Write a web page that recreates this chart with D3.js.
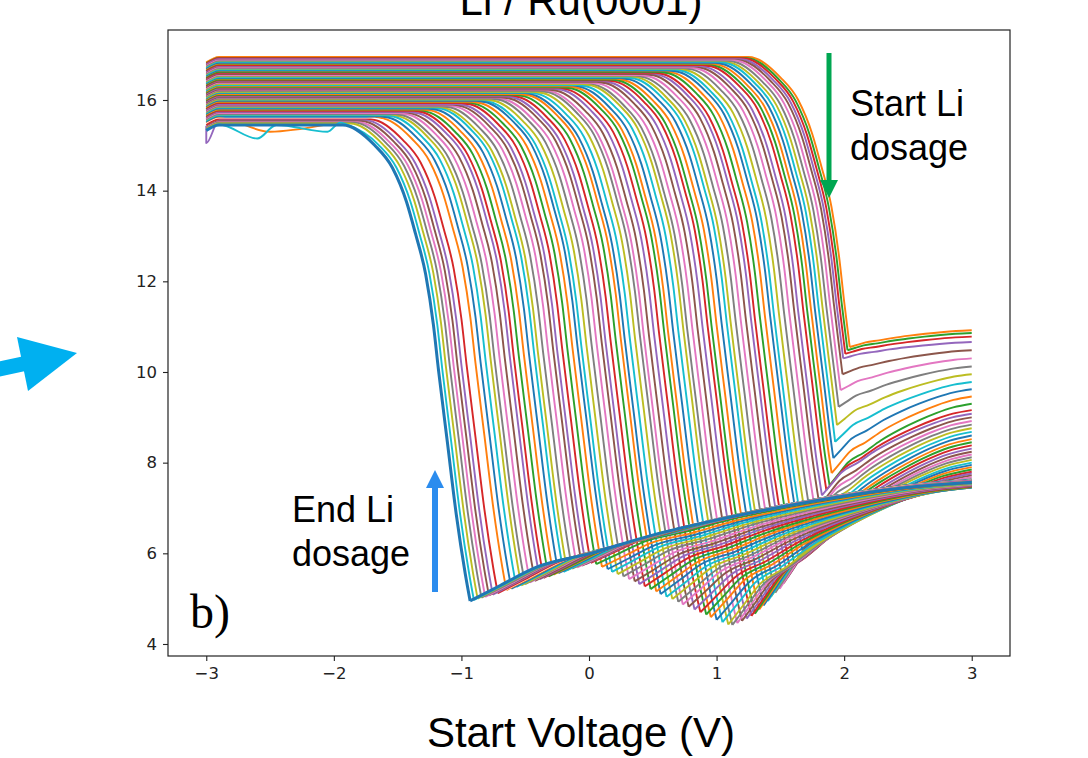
<!DOCTYPE html>
<html>
<head>
<meta charset="utf-8">
<script src="https://cdn.jsdelivr.net/npm/d3@7"></script>
<style>
  body { margin: 0; background: #fff; }
  svg { display: block; }
</style>
</head>
<body>
<div id="chart"></div>
<script>
// Tick values of the two axes
const xTicks = [-3, -2, -1, 0, 1, 2, 3];
const yTicks = [4, 6, 8, 10, 12, 14, 16];

// One entry per sweep, from start of Li dosage (0) to end of dosage (last)
// voltage at the middle of the steep drop
const dropV = [2.00, 1.98, 1.96, 1.94, 1.92, 1.89, 1.86, 1.83, 1.80, 1.77,
  1.74, 1.71, 1.68, 1.64, 1.61, 1.57, 1.53, 1.49, 1.45, 1.42,
  1.38, 1.34, 1.30, 1.27, 1.23, 1.19, 1.15, 1.11, 1.08, 1.04,
  1.00, 0.96, 0.93, 0.89, 0.85, 0.81, 0.77, 0.74, 0.70, 0.66,
  0.62, 0.59, 0.55, 0.51, 0.47, 0.43, 0.40, 0.36, 0.32, 0.28,
  0.25, 0.21, 0.17, 0.13, 0.10, 0.06, 0.02, -0.02, -0.06, -0.09,
  -0.13, -0.17, -0.21, -0.25, -0.28, -0.32, -0.36, -0.40, -0.43, -0.47,
  -0.51, -0.55, -0.59, -0.62, -0.66, -0.70, -0.74, -0.77, -0.81, -0.85,
  -0.89, -0.93, -0.96, -1.00, -1.03, -1.06, -1.09, -1.12, -1.15, -1.18];

// flat level on the left side
const plateau = [16.95, 16.93, 16.92, 16.90, 16.88, 16.87, 16.85, 16.83, 16.82, 16.80,
  16.78, 16.76, 16.75, 16.73, 16.71, 16.70, 16.68, 16.66, 16.65, 16.63,
  16.61, 16.60, 16.58, 16.56, 16.55, 16.53, 16.51, 16.50, 16.48, 16.46,
  16.44, 16.43, 16.41, 16.39, 16.38, 16.36, 16.34, 16.33, 16.31, 16.29,
  16.28, 16.26, 16.24, 16.23, 16.21, 16.19, 16.18, 16.16, 16.14, 16.12,
  16.11, 16.09, 16.07, 16.06, 16.04, 16.02, 16.01, 15.99, 15.97, 15.96,
  15.94, 15.92, 15.91, 15.89, 15.87, 15.86, 15.84, 15.82, 15.81, 15.79,
  15.77, 15.75, 15.74, 15.72, 15.70, 15.69, 15.67, 15.65, 15.64, 15.62,
  15.60, 15.59, 15.57, 15.55, 15.53, 15.51, 15.50, 15.48, 15.46, 15.45];

// lowest value reached after the drop
const minV = [10.55, 10.48, 10.40, 10.30, 9.95, 9.60, 9.23, 8.83, 8.46, 8.10,
  7.77, 7.50, 7.40, 7.28, 7.05, 6.85, 6.65, 6.45, 6.25, 6.06,
  5.90, 5.75, 5.60, 5.47, 5.34, 5.22, 5.13, 5.04, 4.95, 4.85,
  4.76, 4.67, 4.62, 4.56, 4.51, 4.46, 4.42, 4.43, 4.48, 4.53,
  4.59, 4.65, 4.70, 4.76, 4.82, 4.87, 4.93, 4.99, 5.04, 5.10,
  5.16, 5.21, 5.27, 5.32, 5.38, 5.43, 5.49, 5.54, 5.59, 5.65,
  5.70, 5.76, 5.79, 5.76, 5.73, 5.69, 5.66, 5.63, 5.59, 5.56,
  5.53, 5.49, 5.46, 5.43, 5.39, 5.36, 5.32, 5.29, 5.26, 5.22,
  5.19, 5.15, 5.12, 5.09, 5.07, 5.04, 5.02, 5.00, 4.97, 4.95];

// value at the last voltage (+3 V)
const endV = [10.92, 10.86, 10.78, 10.66, 10.48, 10.30, 10.12, 9.95, 9.78, 9.62,
  9.46, 9.30, 9.16, 9.08, 9.00, 8.92, 8.84, 8.76, 8.68, 8.60,
  8.52, 8.45, 8.38, 8.31, 8.24, 8.18, 8.12, 8.06, 8.00, 7.95,
  7.90, 7.85, 7.80, 7.76, 7.72, 7.68, 7.64, 7.61, 7.58, 7.56,
  7.54, 7.52, 7.50, 7.49, 7.48, 7.47, 7.46, 7.45, 7.45, 7.45,
  7.46, 7.47, 7.48, 7.49, 7.50, 7.51, 7.52, 7.53, 7.54, 7.55,
  7.55, 7.56, 7.56, 7.57, 7.57, 7.58, 7.58, 7.59, 7.59, 7.60,
  7.60, 7.60, 7.61, 7.61, 7.61, 7.62, 7.62, 7.62, 7.62, 7.62,
  7.61, 7.61, 7.60, 7.60, 7.59, 7.59, 7.58, 7.58, 7.57, 7.57];

// shape of the drop: offset from dropV and fall below plateau
const fallDx = [-0.75, -0.5, -0.36, -0.25, -0.18, -0.1, -0.04, 0, 0.07, 0.14, 0.21, 0.28, 0.36, 0.45];
const fallDrop = [0, 0.45, 0.95, 1.7, 2.4, 3.3, 4.4, 5.4, 7.0, 8.6, 9.9, 11.0, 12.0, 12.8];

// shape of the recovery after the minimum (fraction of span)
const riseT = [0, 0.06, 0.13, 0.24, 0.36, 0.49, 0.62, 0.75, 0.87, 1];
const riseH = [0, 0.13, 0.28, 0.40, 0.55, 0.68, 0.79, 0.885, 0.955, 1];

// noisy points on the plateau of a few late sweeps: [sweep, voltage, value]
const plateauBumps = [[83, -3.0, 15.05], [80, -2.5, 15.3], [88, -2.6, 15.15], [88, -2.45, 15.45],
  [88, -2.05, 15.3], [88, -1.95, 15.5]];

const palette = ["#1f77b4", "#ff7f0e", "#2ca02c", "#d62728", "#9467bd",
  "#8c564b", "#e377c2", "#7f7f7f", "#bcbd22", "#17becf"];
const whiteSweep = 81;

// Figure frame
const W = 1088, H = 758;
const plot = { left: 168, right: 1010, top: 30, bottom: 656 };

const svg = d3.select("#chart")
  .append("svg")
  .attr("width", W)
  .attr("height", H);

const x = d3.scaleLinear().domain([-3.3, 3.3]).range([plot.left, plot.right]);
const y = d3.scaleLinear().domain([3.735, 17.544]).range([plot.bottom, plot.top]);

svg.append("clipPath").attr("id", "plotClip")
  .append("rect")
  .attr("x", plot.left).attr("y", plot.top)
  .attr("width", plot.right - plot.left).attr("height", plot.bottom - plot.top);

const line = d3.line()
  .x(d => x(d[0]))
  .y(d => y(d[1]))
  .curve(d3.curveMonotoneX);

// Build the knot points of one sweep from its read values
function sweepPath(k) {
  const P = plateau[k], Vd = dropV[k], lo = minV[k], hi = endV[k];
  let fall = [[-3, P - 0.12], [-2.9, P]];
  plateauBumps.filter(b => b[0] === k).forEach(b => fall.push([b[1], b[2]]));
  let xm = null;
  for (let j = 0; j < fallDx.length; j++) {
    if (P - fallDrop[j] <= lo) {
      const f = (P - lo - fallDrop[j - 1]) / (fallDrop[j] - fallDrop[j - 1]);
      xm = Vd + fallDx[j - 1] + f * (fallDx[j] - fallDx[j - 1]);
      break;
    }
    fall.push([Vd + fallDx[j], P - fallDrop[j]]);
  }
  fall.sort((a, b) => a[0] - b[0]);
  fall.push([xm, lo]);
  const rise = riseT.map((t, i) => [xm + t * (3 - xm), lo + riseH[i] * (hi - lo)]);
  return line(fall) + line(rise);
}

const curves = svg.append("g").attr("clip-path", "url(#plotClip)");

curves.selectAll(".sweep")
  .data(d3.range(dropV.length))
  .join("path")
  .attr("class", "sweep")
  .attr("d", k => sweepPath(k))
  .attr("fill", "none")
  .attr("stroke", k => k === whiteSweep ? "#ffffff" : palette[(k + 1) % 10])
  .attr("stroke-width", k => k === dropV.length - 1 ? 3 : 1.9)
  .attr("stroke-linejoin", "round");

// Axes
const xAxis = svg.append("g")
  .attr("transform", "translate(0," + plot.bottom + ")")
  .call(d3.axisBottom(x).tickValues(xTicks).tickSize(5).tickPadding(6)
    .tickFormat(d => d < 0 ? "\u2212" + Math.abs(d) : d));

const yAxis = svg.append("g")
  .attr("transform", "translate(" + plot.left + ",0)")
  .call(d3.axisLeft(y).tickValues(yTicks).tickSize(5).tickPadding(6));

[xAxis, yAxis].forEach(a => {
  a.attr("font-size", null);
  a.select(".domain").remove();
  a.selectAll(".tick line").attr("stroke", "#222").attr("stroke-width", 1.1);
  a.selectAll(".tick text")
    .attr("fill", "#222")
    .style("font-family", "'DejaVu Sans', sans-serif")
    .style("font-size", "16.5px");
});

svg.append("rect")
  .attr("x", plot.left).attr("y", plot.top)
  .attr("width", plot.right - plot.left).attr("height", plot.bottom - plot.top)
  .attr("fill", "none")
  .attr("stroke", "#222")
  .attr("stroke-width", 1.2);

// Title (cut at the top edge, as in the source figure) and axis label
const sans = "'Liberation Sans', Arial, sans-serif";
svg.append("text")
  .attr("x", 581).attr("y", 15)
  .attr("text-anchor", "middle")
  .style("font-family", sans).style("font-size", "42px")
  .text("Li / Ru(0001)");

svg.append("text")
  .attr("x", 581).attr("y", 747)
  .attr("text-anchor", "middle")
  .style("font-family", sans).style("font-size", "42px")
  .text("Start Voltage (V)");

// Annotations
function note(lines, x0, y0) {
  lines.forEach((t, i) => {
    svg.append("text")
      .attr("x", x0).attr("y", y0 + i * 44)
      .style("font-family", sans).style("font-size", "36px")
      .text(t);
  });
}
note(["Start Li", "dosage"], 850, 116);
note(["End Li", "dosage"], 292, 522);

// green arrow pointing down
svg.append("line")
  .attr("x1", 829).attr("y1", 53).attr("x2", 829).attr("y2", 184)
  .attr("stroke", "#00A651").attr("stroke-width", 5);
svg.append("path")
  .attr("d", "M820,180L838,180L829,198Z")
  .attr("fill", "#00A651");

// blue arrow pointing up
svg.append("line")
  .attr("x1", 435).attr("y1", 592).attr("x2", 435).attr("y2", 484)
  .attr("stroke", "#2B8CEE").attr("stroke-width", 6);
svg.append("path")
  .attr("d", "M426,488L444,488L435,470Z")
  .attr("fill", "#2B8CEE");

// cyan arrow at the left edge
svg.append("line")
  .attr("x1", -10).attr("y1", 371).attr("x2", 32).attr("y2", 362)
  .attr("stroke", "#00B0F0").attr("stroke-width", 15);
svg.append("path")
  .attr("d", "M77,353L17,337L28,391Z")
  .attr("fill", "#00B0F0");

// panel label
svg.append("text")
  .attr("x", 190).attr("y", 628)
  .style("font-family", "'Liberation Serif', 'Times New Roman', serif")
  .style("font-size", "48px")
  .text("b)");
</script>
</body>
</html>
